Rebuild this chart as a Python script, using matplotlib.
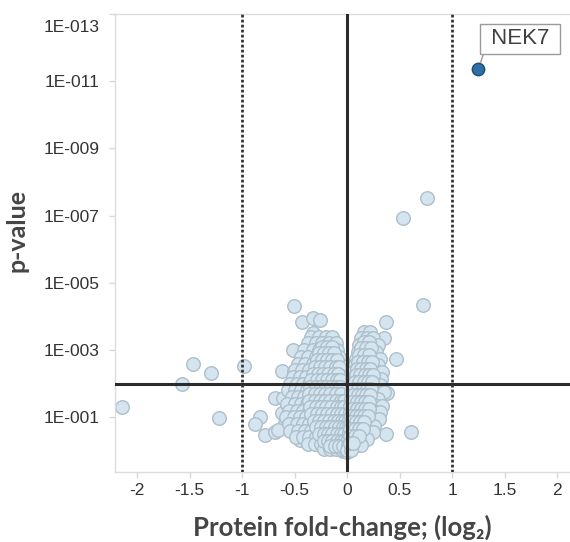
import numpy as np
import matplotlib
matplotlib.use("Agg")
import matplotlib.pyplot as plt
from matplotlib.ticker import FixedLocator, NullLocator
from matplotlib.transforms import ScaledTranslation

# fold change (log2) and -log10(p) for each protein
# sparse points around the cluster
outer_fc = [-2.14, -1.57, -1.47, -1.30, -1.22, -0.98,
            -0.51, -0.43, -0.33, -0.26, -0.33, -0.24, -0.52, -0.35, -0.14,
            -0.62, -0.51, -0.69, -0.61, -0.83, -0.88, -0.78, -0.69, -0.56,
            -0.45, -0.38, -0.26, -0.18, -0.04, 0.00,
            -0.62, -0.59, -0.66, -0.42, -0.38,
            0.76, 0.53, 0.72, 0.37, 0.35, 0.46, 0.19, 0.38, 0.37, 0.61]
outer_nlp = [1.30, 2.00, 2.60, 2.33, 0.97, 2.54,
             4.32, 3.84, 3.96, 3.90, 3.52, 3.37, 2.99, 2.93, 3.07,
             2.39, 2.39, 1.56, 1.56, 1.00, 0.79, 0.47, 0.56, 0.70,
             0.32, 0.32, 0.22, 0.10, 0.00, -0.03,
             1.12, 0.82, 0.61, 0.67, 2.93,
             7.52, 6.93, 4.35, 3.84, 3.37, 2.75, 3.52, 1.71, 0.50, 0.56]

# left arm of the volcano (rows of similar -log10 p)
left_rows = {
    3.40: [-0.34, -0.27, -0.20, -0.14],
    3.20: [-0.37, -0.30, -0.24, -0.17, -0.11],
    3.00: [-0.41, -0.33, -0.27, -0.21, -0.15, -0.10],
    2.80: [-0.44, -0.37, -0.30, -0.24, -0.18, -0.12, -0.08],
    2.60: [-0.47, -0.40, -0.33, -0.27, -0.21, -0.15, -0.10],
    2.40: [-0.50, -0.43, -0.36, -0.30, -0.24, -0.18, -0.12, -0.07],
    2.20: [-0.52, -0.45, -0.39, -0.33, -0.27, -0.21, -0.15, -0.10, -0.06],
    2.00: [-0.54, -0.48, -0.42, -0.36, -0.30, -0.24, -0.18, -0.12, -0.07],
    1.80: [-0.56, -0.50, -0.44, -0.38, -0.32, -0.26, -0.20, -0.15, -0.10, -0.05],
    1.60: [-0.53, -0.47, -0.41, -0.35, -0.29, -0.23, -0.17, -0.12, -0.07, -0.04],
    1.40: [-0.57, -0.50, -0.44, -0.38, -0.32, -0.26, -0.20, -0.14, -0.09, -0.04],
    1.20: [-0.55, -0.48, -0.42, -0.36, -0.30, -0.24, -0.18, -0.12, -0.07, -0.03],
    1.00: [-0.58, -0.51, -0.45, -0.39, -0.33, -0.27, -0.21, -0.15, -0.10, -0.05, -0.02],
    0.80: [-0.55, -0.48, -0.42, -0.36, -0.30, -0.24, -0.18, -0.13, -0.08, -0.03],
    0.60: [-0.54, -0.47, -0.40, -0.34, -0.28, -0.22, -0.16, -0.11, -0.06, -0.02],
    0.40: [-0.49, -0.42, -0.36, -0.30, -0.24, -0.18, -0.13, -0.08, -0.03],
    0.22: [-0.37, -0.31, -0.25, -0.19, -0.14, -0.09, -0.05, -0.01],
    0.06: [-0.22, -0.16, -0.11, -0.06, -0.02],
}

# packed core of the left arm
left_core = {
    3.10: [-0.24, -0.19, -0.14],
    2.90: [-0.27, -0.22, -0.17, -0.13],
    2.70: [-0.29, -0.24, -0.19, -0.14, -0.10],
    2.50: [-0.31, -0.26, -0.21, -0.16, -0.11, -0.08],
    2.30: [-0.33, -0.28, -0.23, -0.18, -0.13, -0.09],
    2.10: [-0.34, -0.29, -0.24, -0.19, -0.14, -0.10, -0.07],
    1.90: [-0.35, -0.30, -0.25, -0.20, -0.15, -0.11, -0.07],
    1.70: [-0.36, -0.31, -0.26, -0.21, -0.16, -0.11, -0.06],
    1.50: [-0.36, -0.31, -0.26, -0.21, -0.16, -0.11, -0.06, -0.03],
    1.30: [-0.35, -0.30, -0.25, -0.20, -0.15, -0.10, -0.06, -0.03],
    1.10: [-0.34, -0.29, -0.24, -0.19, -0.14, -0.10, -0.06, -0.02],
    0.90: [-0.32, -0.27, -0.22, -0.17, -0.13, -0.09, -0.05, -0.02],
    0.70: [-0.30, -0.25, -0.20, -0.16, -0.12, -0.08, -0.04, -0.01],
    0.50: [-0.27, -0.22, -0.18, -0.14, -0.10, -0.06, -0.03],
    0.30: [-0.22, -0.18, -0.14, -0.10, -0.06, -0.03],
    0.14: [-0.16, -0.12, -0.08, -0.04],
}

# right arm
right_rows = {
    3.55: [0.16, 0.22],
    3.35: [0.13, 0.19, 0.25],
    3.15: [0.11, 0.17, 0.23, 0.29],
    2.95: [0.10, 0.15, 0.21, 0.27],
    2.75: [0.08, 0.13, 0.19, 0.25, 0.31],
    2.55: [0.07, 0.12, 0.17, 0.23, 0.29],
    2.35: [0.06, 0.11, 0.16, 0.22, 0.28, 0.33],
    2.15: [0.05, 0.10, 0.15, 0.21, 0.27, 0.32],
    1.95: [0.05, 0.09, 0.14, 0.20, 0.26, 0.31],
    1.75: [0.04, 0.09, 0.14, 0.19, 0.25, 0.30, 0.35],
    1.55: [0.04, 0.08, 0.13, 0.18, 0.24, 0.29],
    1.35: [0.03, 0.08, 0.13, 0.18, 0.23, 0.28, 0.33],
    1.15: [0.03, 0.07, 0.12, 0.17, 0.22, 0.27, 0.31],
    0.95: [0.02, 0.07, 0.12, 0.16, 0.21, 0.26, 0.30],
    0.75: [0.02, 0.06, 0.11, 0.16, 0.21, 0.26],
    0.55: [0.02, 0.06, 0.10, 0.15, 0.20, 0.25],
    0.35: [0.01, 0.05, 0.09, 0.14, 0.19],
    0.18: [0.01, 0.05, 0.09, 0.13],
    0.03: [0.00, 0.04],
}

# packed core of the right arm
right_core = {
    3.25: [0.16, 0.21],
    3.05: [0.13, 0.18, 0.23],
    2.85: [0.11, 0.16, 0.21],
    2.65: [0.10, 0.15, 0.20, 0.24],
    2.45: [0.09, 0.13, 0.18, 0.22],
    2.25: [0.08, 0.12, 0.17, 0.21, 0.25],
    2.05: [0.07, 0.11, 0.16, 0.20, 0.24],
    1.85: [0.06, 0.10, 0.15, 0.19, 0.23],
    1.65: [0.06, 0.10, 0.14, 0.18, 0.22],
    1.45: [0.05, 0.09, 0.13, 0.17, 0.21],
    1.25: [0.05, 0.09, 0.13, 0.17, 0.21],
    1.05: [0.04, 0.08, 0.12, 0.16, 0.20],
    0.85: [0.04, 0.08, 0.12, 0.16],
    0.65: [0.03, 0.07, 0.11, 0.15],
    0.45: [0.03, 0.07, 0.11],
    0.25: [0.03, 0.06],
}

# the highlighted hit
hit_name = "NEK7"
hit_fc = 1.25
hit_nlp = 11.37

x_ticks = [-2, -1.5, -1, -0.5, 0, 0.5, 1, 1.5, 2]
x_tick_labels = ["-2", "-1.5", "-1", "-0.5", "0", "0.5", "1", "1.5", "2"]
y_ticks = [1e-13, 1e-11, 1e-9, 1e-7, 1e-5, 1e-3, 1e-1]
y_tick_labels = ["1E-013", "1E-011", "1E-009", "1E-007", "1E-005", "1E-003", "1E-001"]

fc_cut = 1.0
p_cut = 0.01

# collect all points
fc = list(outer_fc)
nlp = list(outer_nlp)
for rows in (left_rows, left_core, right_rows, right_core):
    for lvl, xs in rows.items():
        fc += xs
        nlp += [lvl] * len(xs)
fc = np.array(fc)
pval = 10.0 ** (-np.array(nlp))

fig = plt.figure(figsize=(5.70, 5.42), dpi=100)
ax = fig.add_axes([0.2018, 0.129, 0.798, 0.845])

ax.scatter(fc, pval, s=95, facecolor="#d4e5ef", edgecolor="#adbfcb",
           linewidth=1.0, zorder=2)

# threshold lines
ax.axvline(0, color="#2b2b2b", lw=2.2, zorder=3)
ax.axhline(p_cut, color="#2b2b2b", lw=2.2, zorder=3)
ax.axvline(-fc_cut, color="#333333", lw=2.0, ls=(0, (1, 0.8)), zorder=3)
ax.axvline(fc_cut, color="#333333", lw=2.0, ls=(0, (1, 0.8)), zorder=3)

# the hit, with its label box
ax.scatter([hit_fc], [10.0 ** -hit_nlp], s=80, facecolor="#2f6fa3",
           edgecolor="#1d4c75", linewidth=1.0, zorder=5)
ax.annotate(" " + hit_name + " ", xy=(hit_fc, 10.0 ** -hit_nlp), xytext=(4.6, 14),
            textcoords="offset points", ha="left", va="bottom",
            fontsize=16, family="Liberation Sans", color="#404040",
            bbox=dict(boxstyle="square,pad=0.2", fc="white", ec="#9a9a9a", lw=1.0),
            arrowprops=dict(arrowstyle="-", color="#9a9a9a", lw=1.0,
                            relpos=(0, 0), shrinkA=0, shrinkB=5),
            zorder=6)

ax.set_yscale("log")
ax.set_xlim(-2.21, 2.12)
ax.set_ylim(10 ** 0.63, 1e-13)

ax.xaxis.set_major_locator(FixedLocator(x_ticks))
ax.set_xticklabels(x_tick_labels)
ax.yaxis.set_major_locator(FixedLocator(y_ticks))
ax.yaxis.set_minor_locator(NullLocator())
ax.set_yticklabels(y_tick_labels)

ax.tick_params(axis="both", length=4, width=1, color="#d9d9d9")
ax.tick_params(axis="y", pad=7)
ax.tick_params(axis="x", pad=4)

for lab in ax.get_xticklabels() + ax.get_yticklabels():
    lab.set_family("Liberation Sans")
    lab.set_fontsize(12.5)
    lab.set_color("#333333")
# top label sits inside the axes, like the original
top_lab = ax.get_yticklabels()[0]
top_lab.set_verticalalignment("top")
top_lab.set_transform(top_lab.get_transform() +
                      ScaledTranslation(0, -4 / 72, fig.dpi_scale_trans))

for side in ("left", "bottom", "top"):
    ax.spines[side].set_color("#dcdcdc")
    ax.spines[side].set_linewidth(1.0)
ax.spines["right"].set_visible(False)

ax.set_xlabel("Protein fold-change; (log\u2082)", family=["Lato", "DejaVu Sans"],
              fontweight="bold", fontsize=18.5, color="#454545", labelpad=11.5)
ax.set_ylabel("p-value", family=["Lato", "DejaVu Sans"], fontweight="bold",
              fontsize=18, color="#454545")
ax.yaxis.set_label_coords(-0.19, 0.528)

fig.savefig("out.png", dpi=100)
